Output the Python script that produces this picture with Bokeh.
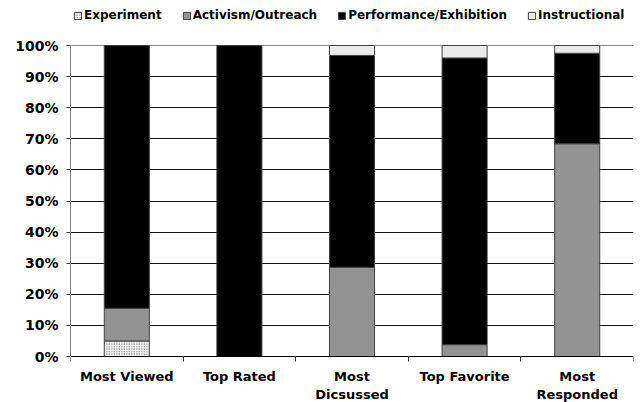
from bokeh.plotting import figure
from bokeh.models import (ColumnDataSource, FixedTicker, NumeralTickFormatter,
                          Legend, Range1d, Grid, LinearAxis)
from bokeh.embed import file_html
from bokeh.resources import INLINE

# Share of videos per genre in each list
categories = ["Most Viewed", "Top Rated", "Most\nDicsussed", "Top Favorite", "Most\nResponded"]
series = ["Experiment", "Activism/Outreach", "Performance/Exhibition", "Instructional"]
experiment = [0.05, 0.0, 0.0, 0.0, 0.0]
activism = [0.105, 0.0, 0.287, 0.038, 0.684]
performance = [0.845, 1.0, 0.681, 0.922, 0.291]
instructional = [0.0, 0.0, 0.032, 0.040, 0.025]
y_ticks = [0, 0.1, 0.2, 0.3, 0.4, 0.5, 0.6, 0.7, 0.8, 0.9, 1.0]

FONT = "DejaVu Sans"
xs = [i + 0.5 for i in range(len(categories))]
n = len(categories)

source = ColumnDataSource(data=dict(
    x=xs,
    Experiment=experiment,
    **{"Activism/Outreach": activism,
       "Performance/Exhibition": performance,
       "Instructional": instructional},
))

# The frame fills the full height: legend above 100%, category labels below 0%
p = figure(width=641, height=402, output_backend="svg", toolbar_location=None,
           x_range=Range1d(0, n), y_range=Range1d(-46 / 311, 356 / 311),
           x_axis_location=None)
p.min_border_left = 70
p.min_border_right = 8
p.min_border_top = 0
p.min_border_bottom = 0
p.outline_line_color = None
p.background_fill_color = "white"
p.border_fill_color = "white"

renderers = p.vbar_stack(
    series, x="x", width=0.4, source=source,
    fill_color=["white", "#939393", "black", "#eaeaea"],
    line_color="#404040", line_width=1,
    hatch_pattern=[".", " ", " ", " "],
    hatch_color="#333333", hatch_scale=2.5, hatch_weight=1.5,
)

# y axis: percentages
p.yaxis.ticker = FixedTicker(ticks=y_ticks)
p.yaxis.bounds = (0, 1)
p.yaxis.formatter = NumeralTickFormatter(format="0%")
p.yaxis.axis_line_color = "#808080"
p.yaxis.major_tick_line_color = "#404040"
p.yaxis.major_tick_in = 0
p.yaxis.major_tick_out = 4
p.yaxis.minor_tick_line_color = None
p.yaxis.major_label_standoff = 8
p.yaxis.major_label_text_font = FONT
p.yaxis.major_label_text_font_style = "bold"
p.yaxis.major_label_text_font_size = "14px"
p.yaxis.major_label_text_color = "black"

# x axis at 0%: labels at bar centres, tick marks between categories
xaxis = LinearAxis(fixed_location=0)
xaxis.ticker = FixedTicker(ticks=xs, minor_ticks=list(range(n + 1)))
xaxis.major_label_overrides = {x: c for x, c in zip(xs, categories)}
xaxis.axis_line_color = "black"
xaxis.major_tick_line_color = None
xaxis.minor_tick_line_color = "#404040"
xaxis.minor_tick_in = 0
xaxis.minor_tick_out = 5
xaxis.major_tick_out = 0
xaxis.major_tick_in = 0
xaxis.major_label_standoff = 7
xaxis.major_label_text_font = FONT
xaxis.major_label_text_font_style = "bold"
xaxis.major_label_text_font_size = "13px"
xaxis.major_label_text_color = "black"
xaxis.major_label_text_line_height = 1.2
p.add_layout(xaxis, "below")

# plot-area edges: grey line at 100%, light grey on the right
p.xgrid.ticker = FixedTicker(ticks=[n])
p.xgrid.bounds = (0, 1)
p.xgrid.grid_line_color = "#c4c4c4"
p.ygrid.ticker = FixedTicker(ticks=y_ticks[1:-1])
p.ygrid.grid_line_color = "#111111"
p.ygrid.grid_line_width = 1
p.add_layout(Grid(dimension=1, ticker=FixedTicker(ticks=[1.0]),
                  grid_line_color="#8c8c8c", grid_line_width=1))

legend = Legend(items=[(s, [r]) for s, r in zip(series, renderers)],
                orientation="horizontal", location=(3, 380))
legend.glyph_width = 9
legend.glyph_height = 9
legend.label_standoff = 2
legend.spacing = 20
legend.padding = 0
legend.margin = 0
legend.border_line_color = None
legend.background_fill_alpha = 0
legend.label_text_font = FONT
legend.label_text_font_style = "bold"
legend.label_text_font_size = "12px"
legend.label_text_color = "black"
legend.label_height = 12
p.add_layout(legend, "center")

open("out.html", "w").write(file_html(p, INLINE))
